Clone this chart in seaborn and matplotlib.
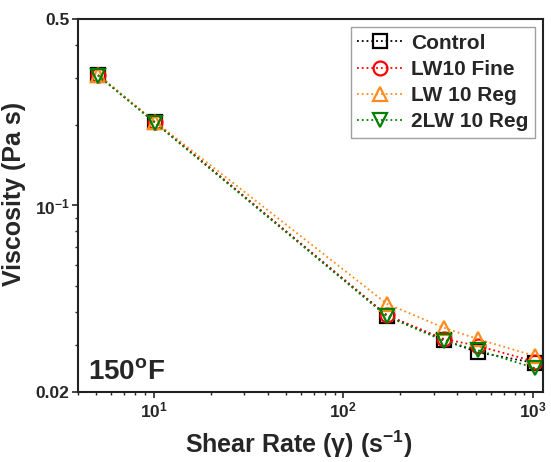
import numpy as np
import pandas as pd
import matplotlib
matplotlib.use('Agg')
import matplotlib.pyplot as plt
import seaborn as sns
from matplotlib.ticker import FixedLocator, NullFormatter

# Datos (150 F)
shear_rate = [5.1, 10.2, 170, 340, 511, 1022]
control = [0.308, 0.205, 0.0387, 0.0313, 0.0282, 0.0257]
lw10_fine = [0.308, 0.205, 0.0388, 0.0316, 0.0298, 0.0260]
lw10_reg = [0.309, 0.206, 0.0428, 0.0348, 0.0316, 0.0273]
lw2_10_reg = [0.307, 0.204, 0.0384, 0.0311, 0.0287, 0.0246]

series = ['Control', 'LW10 Fine', 'LW 10 Reg', '2LW 10 Reg']
valores = [control, lw10_fine, lw10_reg, lw2_10_reg]
colores = ['black', 'red', '#ff8c1a', 'green']
marcadores = ['s', 'o', '^', 'v']

sns.set_style('ticks')
plt.rcParams['font.family'] = ['Liberation Sans', 'DejaVu Sans']
plt.rcParams['font.weight'] = 'bold'
plt.rcParams['mathtext.fontset'] = 'custom'
plt.rcParams['mathtext.rm'] = 'Liberation Sans:bold'
plt.rcParams['mathtext.bf'] = 'Liberation Sans:bold'
plt.rcParams['mathtext.it'] = 'Liberation Sans:bold'
plt.rcParams['mathtext.default'] = 'bf'

fig = plt.figure(figsize=(5.51, 4.62), dpi=100)
ax = fig.add_axes([0.1416, 0.1515, 0.8439, 0.8074])

for nombre, vals, c, m in zip(series, valores, colores, marcadores):
    df = pd.DataFrame({'x': shear_rate, 'y': vals})
    sns.lineplot(x='x', y='y', data=df, ax=ax, color=c, marker=m, linestyle=':',
                 linewidth=1.3, markersize=10, markerfacecolor='none',
                 markeredgecolor=c, markeredgewidth=1.6, label=nombre)

ax.set_xscale('log')
ax.set_yscale('log')
ax.set_xlim(4, 1130)
ax.set_ylim(0.02, 0.5)

ax.set_xticks([10, 100, 1000])
ax.set_xticklabels(['$10^{1}$', '$10^{2}$', '$10^{3}$'])
ax.set_yticks([0.02, 0.1, 0.5])
ax.set_yticklabels(['0.02', '$10^{-1}$', '0.5'])
ax.yaxis.set_minor_locator(FixedLocator([0.03, 0.04, 0.05, 0.06, 0.07, 0.08, 0.09, 0.2, 0.3, 0.4]))
ax.yaxis.set_minor_formatter(NullFormatter())
ax.xaxis.set_minor_formatter(NullFormatter())
ax.tick_params(axis='both', which='major', labelsize=12.5, length=4, width=1.2,
               direction='out', pad=2)
ax.tick_params(axis='both', which='minor', length=2.5, width=1, direction='out')

for s in ax.spines.values():
    s.set_linewidth(1.5)
    s.set_color('#222222')

ax.set_xlabel('Shear Rate (γ) (s$^{-1}$)', fontsize=18, fontweight='bold', labelpad=6)
ax.set_ylabel('Viscosity (Pa s)', fontsize=18, fontweight='bold', labelpad=6)
ax.xaxis.label.set_x(0.475)
ax.yaxis.label.set_y(0.53)

ax.text(0.022, 0.035, '150$^{\\rm o}$F', transform=ax.transAxes, fontsize=20, fontweight='bold')

leg = ax.legend(loc='upper right', fontsize=15, frameon=True, fancybox=False,
                handlelength=2.2, handletextpad=0.4, borderpad=0.3, labelspacing=0.35,
                borderaxespad=0.4)
leg.get_frame().set_edgecolor('#888888')
leg.get_frame().set_linewidth(1)
for t in leg.get_texts():
    t.set_fontweight('bold')

plt.savefig('out.png', dpi=100)
